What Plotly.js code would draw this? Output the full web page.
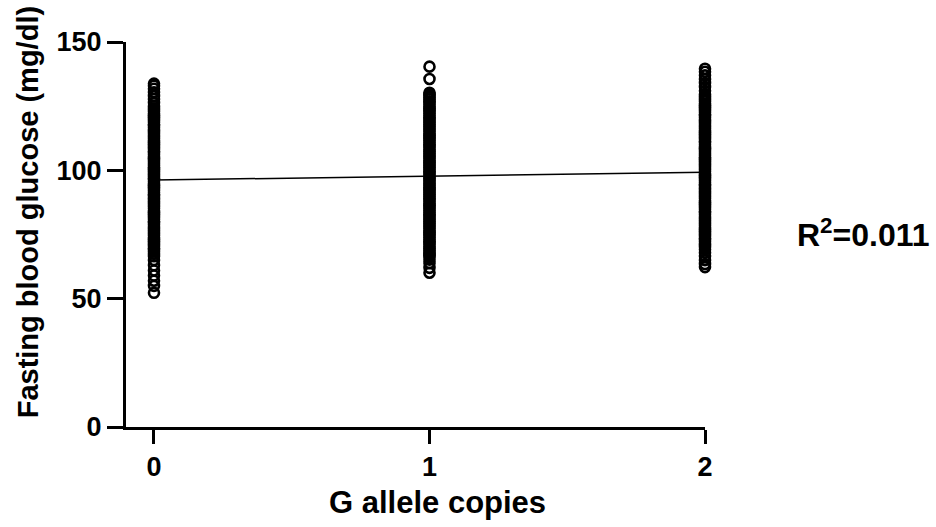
<!DOCTYPE html>
<html>
<head>
<meta charset="utf-8">
<script src="https://cdn.plot.ly/plotly-3.0.1.min.js"></script>
<style>html,body{margin:0;padding:0;background:#fff;}#chart{width:936px;height:527px;}</style>
</head>
<body>
<div id="chart"></div>
<script>
// G allele copies = 0
const glucose0 = [52.3, 55.0, 57.0, 59.0, 61.0, 63.0, 65.0, 66.5,
  67.5, 68.3, 69.0, 69.6, 70.4, 71.1, 71.7, 72.5, 73.2, 73.8, 74.6, 75.3, 75.9, 76.7, 77.4, 78.0,
  78.8, 79.5, 80.1, 80.9, 81.6, 82.2, 83.0, 83.7, 84.3, 85.1, 85.8, 86.4, 87.2, 87.9, 88.5, 89.3,
  90.0, 90.6, 91.4, 92.1, 92.7, 93.5, 94.2, 94.8, 95.6, 96.3, 96.9, 97.7, 98.4, 99.0, 99.8, 100.5,
  101.1, 101.9, 102.6, 103.2, 104.0, 104.7, 105.3, 106.1, 106.8, 107.4, 108.2, 108.9, 109.5, 110.3,
  111.0, 111.6, 112.4, 113.1, 113.7, 114.5, 115.2, 115.8, 116.6, 117.3, 117.9, 118.7, 119.4, 120.0,
  120.8, 121.5, 122.1, 122.9, 123.6, 124.2, 125.0,
  126.3, 127.7, 129.0, 130.4, 131.8, 133.0, 133.8];
// G allele copies = 1
const glucose1 = [60.1, 62.0, 63.8, 65.2,
  66.3, 66.9, 67.5, 68.1, 68.9, 69.6, 70.2, 71.0, 71.7, 72.3, 73.1, 73.8, 74.4, 75.2, 75.9, 76.5,
  77.3, 78.0, 78.6, 79.4, 80.1, 80.7, 81.5, 82.2, 82.8, 83.6, 84.3, 84.9, 85.7, 86.4, 87.0, 87.8,
  88.5, 89.1, 89.9, 90.6, 91.2, 92.0, 92.7, 93.3, 94.1, 94.8, 95.4, 96.2, 96.9, 97.5, 98.3, 99.0,
  99.6, 100.4, 101.1, 101.7, 102.5, 103.2, 103.8, 104.6, 105.3, 105.9, 106.7, 107.4, 108.0, 108.8,
  109.5, 110.1, 110.9, 111.6, 112.2, 113.0, 113.7, 114.3, 115.1, 115.8, 116.4, 117.2, 117.9, 118.5,
  119.3, 120.0, 120.6, 121.4, 122.1, 122.7, 123.5, 124.2, 124.8, 125.6, 126.3, 126.9, 127.7, 128.4,
  129.0, 129.7, 130.2,
  135.6, 140.4];
// G allele copies = 2
const glucose2 = [62.3, 63.5, 65.0, 66.5, 68.0, 69.2,
  70.1, 70.8, 71.4, 72.2, 72.9, 73.5, 74.3, 75.0, 75.6, 76.4, 77.1, 77.7, 78.5, 79.2, 79.8, 80.6,
  81.3, 81.9, 82.7, 83.4, 84.0, 84.8, 85.5, 86.1, 86.9, 87.6, 88.2, 89.0, 89.7, 90.3, 91.1, 91.8,
  92.4, 93.2, 93.9, 94.5, 95.3, 96.0, 96.6, 97.4, 98.1, 98.7, 99.5, 100.2, 100.8, 101.6, 102.3,
  102.9, 103.7, 104.4, 105.0, 105.8, 106.5, 107.1, 107.9, 108.6, 109.2, 110.0, 110.7, 111.3, 112.1,
  112.8, 113.4, 114.2, 114.9, 115.5, 116.3, 117.0, 117.6, 118.4, 119.1, 119.7, 120.5, 121.2, 121.8,
  122.6, 123.3, 123.9, 124.7, 125.4, 126.0, 126.8, 127.5, 128.1, 128.9, 129.6,
  131.0, 132.5, 134.0, 135.5, 137.0, 138.4, 139.6];

const alleleCopies = [0, 1, 2];
const groups = [glucose0, glucose1, glucose2];

// regression line
const fitX = [0, 2];
const fitY = [96.2, 99.3];

const xTickVals = [0, 1, 2];
const xTickText = ['0', '1', '2'];
const yTickVals = [0, 50, 100, 150];
const yTickText = ['0', '50', '100', '150'];
const xTitle = 'G allele copies';
const yTitle = 'Fasting blood glucose (mg/dl)';
const r2Text = 'R<sup>2</sup>=0.011';

const xs = [], ys = [];
groups.forEach((g, i) => g.forEach(v => { xs.push(alleleCopies[i]); ys.push(v); }));

const FONT = 'Liberation Sans, Arial, Helvetica, sans-serif';

const traces = [
  {
    type: 'scatter', mode: 'markers', x: xs, y: ys, cliponaxis: false,
    marker: {symbol: 'circle-open', size: 10, color: '#000', line: {width: 2.6, color: '#000'}},
    hoverinfo: 'x+y', showlegend: false
  },
  {
    type: 'scatter', mode: 'lines', x: fitX, y: fitY, cliponaxis: false,
    line: {color: '#000', width: 1.5}, showlegend: false
  }
];

const layout = {
  width: 936, height: 527,
  margin: {l: 126, r: 231, t: 42, b: 100, pad: 0},
  paper_bgcolor: '#fff', plot_bgcolor: '#fff',
  font: {family: FONT, color: '#000'},
  showlegend: false,
  xaxis: {
    range: [-0.1016, 2.0], tickvals: xTickVals, ticktext: xTickText,
    showgrid: false, zeroline: false, showline: true, linecolor: '#000', linewidth: 3,
    ticks: 'outside', ticklen: 14, tickwidth: 3, tickcolor: '#000',
    tickfont: {family: FONT, size: 27, weight: 700, color: '#000'},
    automargin: false, fixedrange: true
  },
  yaxis: {
    range: [0, 150], tickvals: yTickVals, ticktext: yTickText,
    showgrid: false, zeroline: false, showline: true, linecolor: '#000', linewidth: 3,
    ticks: 'outside', ticklen: 16, tickwidth: 3, tickcolor: '#000',
    tickfont: {family: FONT, size: 27, weight: 700, color: '#000'},
    automargin: false, fixedrange: true
  },
  annotations: [
    {
      xref: 'x', yref: 'paper', x: 1.03, y: -0.195, xanchor: 'center', yanchor: 'middle',
      text: xTitle, showarrow: false,
      font: {family: FONT, size: 31, weight: 700, color: '#000'}
    },
    {
      xref: 'paper', yref: 'paper', x: -0.169, y: 0.558, xanchor: 'center', yanchor: 'middle',
      text: yTitle, showarrow: false, textangle: -90,
      font: {family: FONT, size: 29, weight: 700, color: '#000'}
    },
    {
      xref: 'paper', yref: 'paper', x: 1.2746, y: 0.5045, xanchor: 'center', yanchor: 'middle',
      text: r2Text, showarrow: false,
      font: {family: FONT, size: 32, weight: 700, color: '#000'}
    }
  ]
};

Plotly.newPlot('chart', traces, layout, {displayModeBar: false, staticPlot: true});
</script>
</body>
</html>
